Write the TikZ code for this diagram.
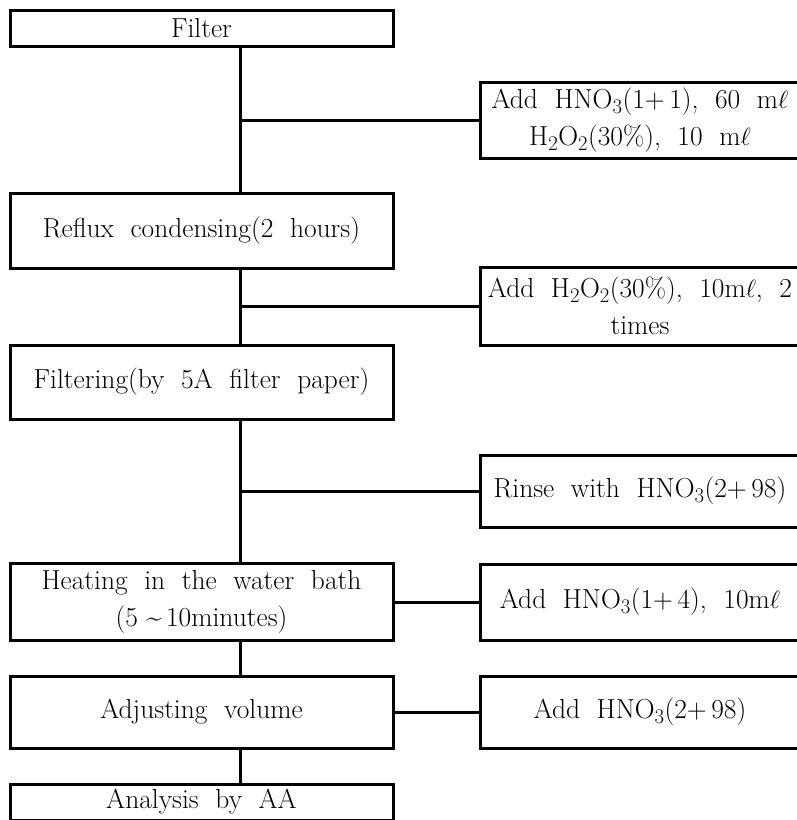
\documentclass[tikz,border=0pt]{standalone}
\usepackage{tikz}
\usetikzlibrary{positioning,calc}

\begin{document}
\begin{tikzpicture}[x=1pt, y=-1pt, font=\fontsize{27.5}{37}\selectfont]
  \tikzstyle{step box}=[draw, line width=3pt, align=center, minimum width=383pt, inner sep=0pt]
  \tikzstyle{add box}=[draw, line width=3pt, align=center, minimum width=320pt, inner sep=0pt]
  \tikzstyle{link}=[line width=3pt]

  \clip (0,0) rectangle (797,820);

  % main steps
  \node[step box, minimum height=36pt] (filt) at (201.5,28) {Filter};
  \node[step box, minimum height=75pt] (reflux) at (201.5,230.5) {Reflux\ \ condensing(2\ \ hours)};
  \node[step box, minimum height=74pt] (filtering) at (201.5,382) {Filtering(by\ \ 5A\ \ filter\ \ paper)};
  \node[step box, minimum height=77pt] (heat) at (201.5,601.5) {Heating\ \ in\ \ the\ \ water\ \ bath\\(5\ \~{}\,10minutes)};
  \node[step box, minimum height=72pt] (adjust) at (201.5,712) {Adjusting\ \ volume};
  \node[step box, minimum height=36pt] (anal) at (201.5,802) {Analysis\ \ by\ \ AA};

  % additions
  \node[add box, minimum height=76pt] (r1) at (640,120) {Add\ \ HNO$_3$(1+\,1),\ \ 60\ \ m$\ell$\\H$_2$O$_2$(30\%),\ \ 10\ \ m$\ell$};
  \node[add box, minimum height=78pt] (r2) at (640,306) {Add\ \ H$_2$O$_2$(30\%),\ \ 10m$\ell$,\ \ 2\\times};
  \node[add box, minimum height=72pt] (r3) at (640,491) {Rinse\ \ with\ \ HNO$_3$(2+\,98)};
  \node[add box, minimum height=76pt] (r4) at (640,602) {Add\ \ HNO$_3$(1+\,4),\ \ 10m$\ell$};
  \node[add box, minimum height=72pt] (r5) at (640,712) {Add\ \ HNO$_3$(2+\,98)};

  \coordinate (trunk) at (240,0);

  \draw[link] (filt.south -| trunk) -- (reflux.north -| trunk);
  \draw[link] (reflux.south -| trunk) -- (filtering.north -| trunk);
  \draw[link] (filtering.south -| trunk) -- (heat.north -| trunk);
  \draw[link] (heat.south -| trunk) -- (adjust.north -| trunk);
  \draw[link] (adjust.south -| trunk) -- (anal.north -| trunk);

  \draw[link] (r1.west) -- (r1.west -| trunk);
  \draw[link] (r2.west) -- (r2.west -| trunk);
  \draw[link] (r3.west) -- (r3.west -| trunk);
  \draw[link] (r4.west) -- (r4.west -| heat.east);
  \draw[link] (adjust.east) -- (r5.west);
\end{tikzpicture}
\end{document}
